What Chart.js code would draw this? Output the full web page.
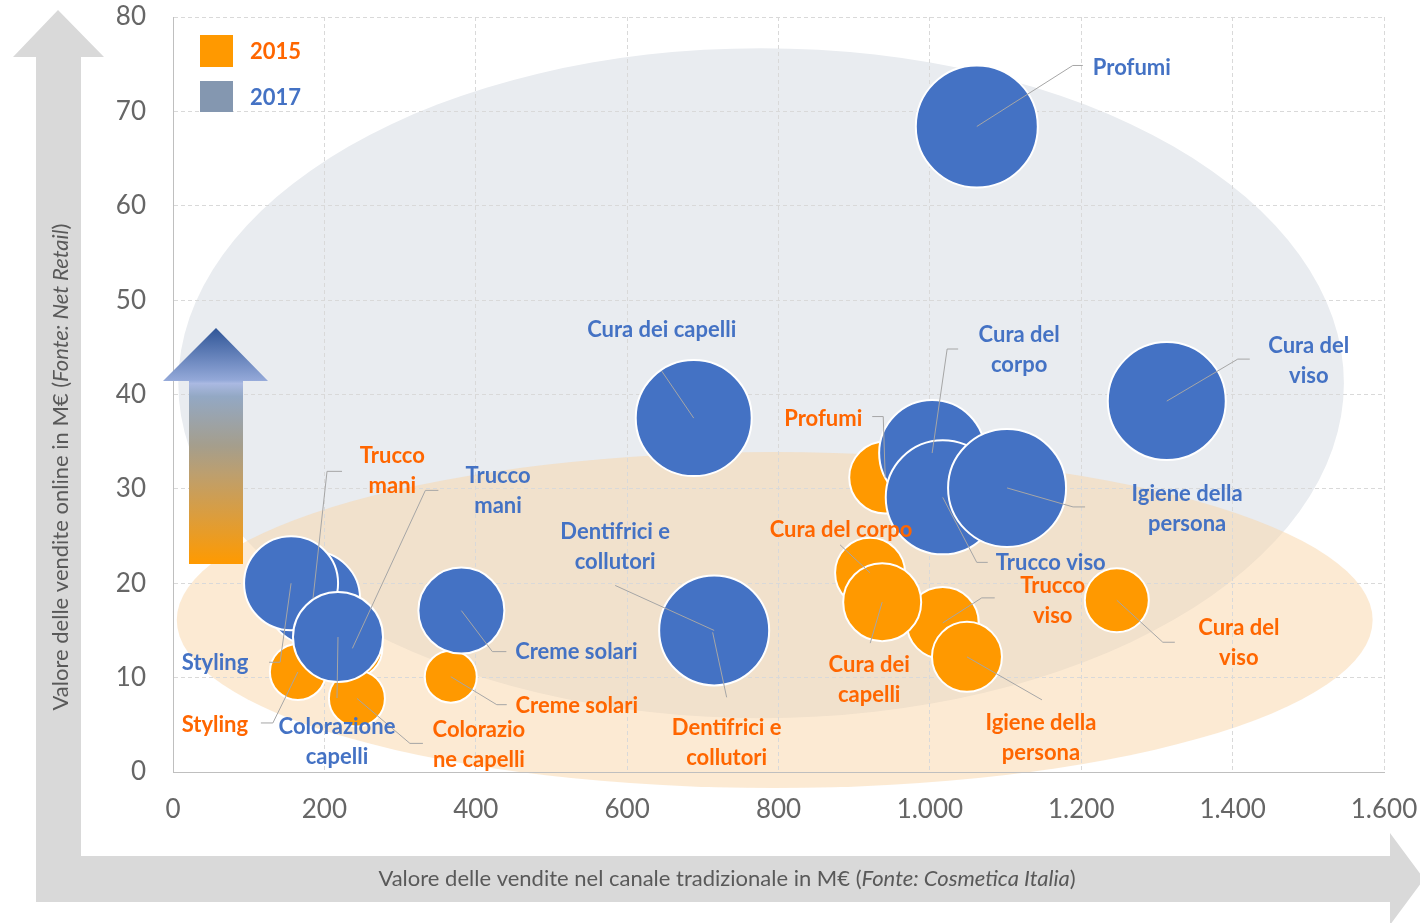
<!DOCTYPE html>
<html>
<head>
<meta charset="utf-8">
<script src="https://cdn.jsdelivr.net/npm/chart.js@4.4.1/dist/chart.umd.min.js"></script>
<style>
    html, body { margin: 0; padding: 0; background: #fff; }
    canvas { display: block; }
</style>
</head>
<body>
<canvas id="chartBubble" width="1420" height="923"></canvas>
<script>
var categories = ['Profumi', 'Cura del viso', 'Cura del corpo', 'Trucco viso', 'Igiene della persona', 'Cura dei capelli', 'Dentifrici e collutori', 'Creme solari', 'Trucco mani', 'Styling', 'Colorazione capelli'];
var seriesNames = ['2015', '2017'];

// valore canale tradizionale (M€), valore online (M€), dimensione bolla
var offline2015 = [941, 1247, 921, 1017, 1049, 937, 713, 367, 237, 165, 243];
var online2015 = [31.2, 18.2, 21.1, 15.8, 12.2, 18.0, 14.8, 10.1, 13.1, 10.6, 7.8];
var size2015 = [36, 32, 35, 36, 35, 39, 30, 26, 30, 28, 28];

var offline2017 = [1062, 1313, 1003, 1017, 1102, 688, 715, 381, 185, 156, 218];
var online2017 = [68.4, 39.3, 33.8, 29.1, 30.1, 37.5, 15.0, 17.1, 18.4, 20.0, 14.3];
var size2017 = [61, 59, 53, 57, 59, 58, 55, 43, 47, 47, 45];

var xTickValues = [0, 200, 400, 600, 800, 1000, 1200, 1400, 1600];
var yTickValues = [0, 10, 20, 30, 40, 50, 60, 70, 80];

// testo delle etichette (a capo come nell'originale)
var labels2015 = [['Profumi'], ['Cura del', 'viso'], ['Cura del corpo'], ['Trucco', 'viso'], ['Igiene della', 'persona'], ['Cura dei', 'capelli'], ['Dentifrici e', 'collutori'], ['Creme solari'], ['Trucco', 'mani'], ['Styling'], ['Colorazio', 'ne capelli']];
var labels2017 = [['Profumi'], ['Cura del', 'viso'], ['Cura del', 'corpo'], ['Trucco viso'], ['Igiene della', 'persona'], ['Cura dei capelli'], ['Dentifrici e', 'collutori'], ['Creme solari'], ['Trucco', 'mani'], ['Styling'], ['Colorazione', 'capelli']];

// posizione etichette / linee guida (offset in px dal centro della bolla)
var layout2015 = [
    { t: [-62, -59], l: [[-2, -61], [-13, -61]] },
    { t: [122, 43], l: [[46, 42], [58, 42]] },
    { t: [-29, -43], l: [[-30, -28]] },
    { t: [110, -22], l: [[39, -25], [52, -25]] },
    { t: [74, 81], l: [[75, 43]] },
    { t: [-13, 78], l: [[-12, 41]] },
    { t: [14, 111], l: [[14, 65]] },
    { t: [126, 29], l: [[46, 28], [56, 28]] },
    { t: [40, -177], l: [[73, -158], [86, -158]] },
    { t: [-83, 53], l: [[-25, 51], [-37, 51]] },
    { t: [122, 47], l: [[53, 45], [66, 45]] }
];
var layout2017 = [
    { t: [155, -59], l: [[96, -61], [106, -61]] },
    { t: [142, -40], l: [[71, -42], [83, -42]] },
    { t: [87, -103], l: [[15, -104], [26, -104]] },
    { t: [108, 66], l: [[34, 65], [45, 65]] },
    { t: [180, 21], l: [[66, 19], [78, 19]] },
    { t: [-32, -88], l: [[-32, -47]] },
    { t: [-99, -84], l: [[-99, -45]] },
    { t: [115, 41], l: [[31, 41], [45, 41]] },
    { t: [185, -107], l: [[14, -127], [29, -127]] },
    { t: [-76, 80], l: [[-11, 79], [-22, 79]] },
    { t: [-1, 105], l: [[-1, 61]] }
];

var orange = '#ff9900';
var orangeText = '#ff6600';
var blue = '#4472c4';
var greyText = '#666666';

function buildPoints(xs, ys, rs) {
    var pts = [];
    for (var i = 0; i < xs.length; i++) {
        pts.push({ x: xs[i], y: ys[i], r: rs[i] });
    }
    return pts;
}

function fmtThousands(v) {
    return String(v).replace(/\B(?=(\d{3})+(?!\d))/g, '.');
}

function drawMixed(ctx, parts, cx, cy) {
    var total = 0;
    parts.forEach(function (p) {
        ctx.font = (p[1] ? 'italic ' : '') + '22px Lato';
        total += ctx.measureText(p[0]).width;
    });
    var x = cx - total / 2;
    ctx.textAlign = 'left';
    ctx.textBaseline = 'middle';
    parts.forEach(function (p) {
        ctx.font = (p[1] ? 'italic ' : '') + '22px Lato';
        ctx.fillText(p[0], x, cy);
        x += ctx.measureText(p[0]).width;
    });
}

var backgroundPlugin = {
    id: 'background',
    beforeDraw: function (chart) {
        var ctx = chart.ctx;
        var xs = chart.scales.x, ys = chart.scales.y;
        ctx.save();
        // frecce grigie degli assi
        ctx.fillStyle = '#d9d9d9';
        ctx.beginPath();
        ctx.moveTo(58, 10);
        ctx.lineTo(104, 57);
        ctx.lineTo(81, 57);
        ctx.lineTo(81, 856);
        ctx.lineTo(1390, 856);
        ctx.lineTo(1390, 833);
        ctx.lineTo(1424, 879);
        ctx.lineTo(1390, 925);
        ctx.lineTo(1390, 902);
        ctx.lineTo(36, 902);
        ctx.lineTo(36, 57);
        ctx.lineTo(13, 57);
        ctx.closePath();
        ctx.fill();

        // ellisse 2017
        var cx = xs.getPixelForValue(777), cy = ys.getPixelForValue(41.2);
        var rx = xs.getPixelForValue(770) - xs.getPixelForValue(0);
        var ry = ys.getPixelForValue(0) - ys.getPixelForValue(35.5);
        ctx.fillStyle = '#e9ecf0';
        ctx.beginPath();
        ctx.ellipse(cx, cy, rx, ry, 0, 0, Math.PI * 2);
        ctx.fill();

        // ellisse 2015
        cx = xs.getPixelForValue(795);
        cy = ys.getPixelForValue(16.1);
        rx = xs.getPixelForValue(790) - xs.getPixelForValue(0);
        ry = ys.getPixelForValue(0) - ys.getPixelForValue(17.8);
        ctx.fillStyle = 'rgba(250, 214, 168, 0.5)';
        ctx.beginPath();
        ctx.ellipse(cx, cy, rx, ry, 0, 0, Math.PI * 2);
        ctx.fill();

        // titoli assi
        ctx.fillStyle = '#595959';
        drawMixed(ctx, [['Valore delle vendite nel canale tradizionale in M\u20ac (', false], ['Fonte: Cosmetica Italia', true], [')', false]], 727, 879);
        ctx.translate(61, 467);
        ctx.rotate(-Math.PI / 2);
        drawMixed(ctx, [['Valore delle vendite online in M\u20ac (', false], ['Fonte: Net Retail', true], [')', false]], 0, 0);
        ctx.restore();
    },
    beforeDatasetsDraw: function (chart) {
        var ctx = chart.ctx;
        ctx.save();
        // freccia sfumata
        var grad = ctx.createLinearGradient(0, 328, 0, 564);
        grad.addColorStop(0, '#2f5597');
        grad.addColorStop(0.22, '#93a8d8');
        grad.addColorStop(0.235, '#aab9e2');
        grad.addColorStop(0.29, '#93a8c4');
        grad.addColorStop(0.5, '#a59e8c');
        grad.addColorStop(0.62, '#bd9f6e');
        grad.addColorStop(0.8, '#dc9d3c');
        grad.addColorStop(1, '#ff9a00');
        ctx.fillStyle = grad;
        ctx.beginPath();
        ctx.moveTo(216, 328);
        ctx.lineTo(268, 381);
        ctx.lineTo(243, 381);
        ctx.lineTo(243, 564);
        ctx.lineTo(189, 564);
        ctx.lineTo(189, 381);
        ctx.lineTo(163, 381);
        ctx.closePath();
        ctx.fill();
        ctx.restore();
    },
    afterDatasetsDraw: function (chart) {
        var ctx = chart.ctx;
        var groups = [
            { meta: chart.getDatasetMeta(0), labels: labels2015, layout: layout2015, color: orangeText },
            { meta: chart.getDatasetMeta(1), labels: labels2017, layout: layout2017, color: blue }
        ];
        ctx.save();
        // linee guida
        ctx.strokeStyle = '#a6a6a6';
        ctx.lineWidth = 1;
        groups.forEach(function (g) {
            g.meta.data.forEach(function (el, i) {
                var lay = g.layout[i];
                ctx.beginPath();
                ctx.moveTo(el.x, el.y);
                lay.l.forEach(function (p) {
                    ctx.lineTo(el.x + p[0], el.y + p[1]);
                });
                ctx.stroke();
            });
        });
        // etichette
        ctx.font = 'bold 22px Lato';
        ctx.textAlign = 'center';
        ctx.textBaseline = 'middle';
        groups.forEach(function (g) {
            ctx.fillStyle = g.color;
            g.meta.data.forEach(function (el, i) {
                var lay = g.layout[i];
                var lines = g.labels[i];
                var y0 = el.y + lay.t[1] - (lines.length - 1) * 15;
                lines.forEach(function (txt, k) {
                    ctx.fillText(txt, el.x + lay.t[0], y0 + k * 30);
                });
            });
        });

        // legenda
        ctx.fillStyle = orange;
        ctx.fillRect(200, 35, 33, 32);
        ctx.fillStyle = '#8497b0';
        ctx.fillRect(200, 81, 33, 31);
        ctx.textAlign = 'left';
        ctx.fillStyle = orangeText;
        ctx.fillText(seriesNames[0], 250, 52);
        ctx.fillStyle = blue;
        ctx.fillText(seriesNames[1], 250, 98);
        ctx.restore();
    }
};

var ctx = document.getElementById('chartBubble').getContext('2d');

var chartBubble = new Chart(ctx, {
    type: 'bubble',
    data: {
        datasets: [{
            label: seriesNames[0],
            data: buildPoints(offline2015, online2015, size2015),
            backgroundColor: orange,
            borderColor: '#ffffff',
            borderWidth: 2,
            clip: false,
            order: 2
        }, {
            label: seriesNames[1],
            data: buildPoints(offline2017, online2017, size2017),
            backgroundColor: blue,
            borderColor: '#ffffff',
            borderWidth: 2,
            clip: false,
            order: 1
        }]
    },
    options: {
        responsive: false,
        animation: false,
        events: [],
        layout: {
            autoPadding: false,
            padding: { top: 17, right: 36, left: 0, bottom: 0 }
        },
        plugins: {
            legend: { display: false },
            tooltip: { enabled: false }
        },
        scales: {
            x: {
                type: 'linear',
                min: 0,
                max: 1600,
                afterBuildTicks: function (scale) {
                    scale.ticks = xTickValues.map(function (v) { return { value: v }; });
                },
                afterFit: function (scale) {
                    scale.height = 151;
                    scale.paddingLeft = 0;
                    scale.paddingRight = 0;
                },
                ticks: {
                    callback: function (value) { return fmtThousands(value); },
                    font: { family: 'Lato', size: 26 },
                    color: greyText,
                    padding: 22,
                    maxRotation: 0,
                    autoSkip: false
                },
                grid: { color: '#d9d9d9', drawTicks: false },
                border: { display: true, color: '#bfbfbf', dash: [4, 3] }
            },
            y: {
                type: 'linear',
                min: 0,
                max: 80,
                afterBuildTicks: function (scale) {
                    scale.ticks = yTickValues.map(function (v) { return { value: v }; });
                },
                afterFit: function (scale) {
                    scale.width = 173;
                    scale.paddingTop = 0;
                    scale.paddingBottom = 0;
                },
                ticks: {
                    font: { family: 'Lato', size: 26 },
                    color: greyText,
                    padding: 27
                },
                grid: { color: '#d9d9d9', drawTicks: false },
                border: { display: true, color: '#bfbfbf', dash: [4, 3] }
            }
        }
    },
    plugins: [backgroundPlugin]
});
</script>
</body>
</html>
